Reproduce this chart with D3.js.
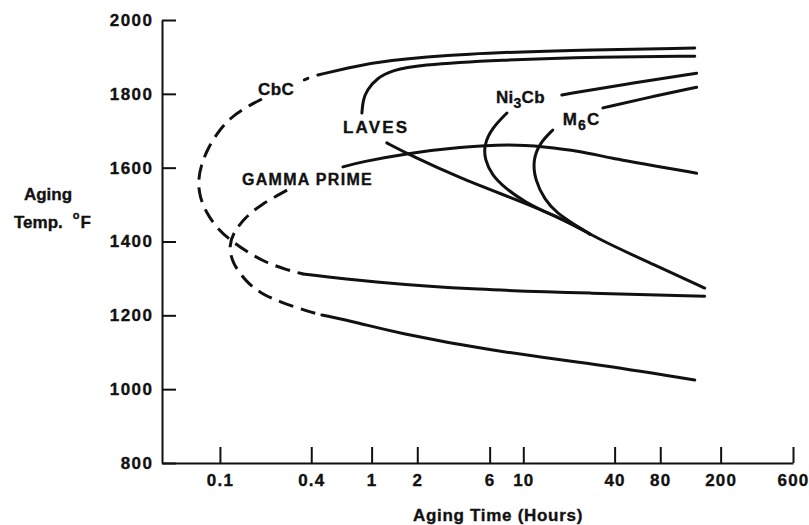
<!DOCTYPE html>
<html>
<head>
<meta charset="utf-8">
<script src="https://cdn.jsdelivr.net/npm/d3@7"></script>
<style>
  body { margin: 0; background: #fff; }
  text { font-family: "Liberation Sans", Arial, Helvetica, sans-serif; font-weight: bold; fill: #111;
         stroke: #111; stroke-width: 0.35px; }
</style>
</head>
<body>
<div id="chart"></div>
<script>
// axis ticks
var xTicks = [0.1, 0.4, 1, 2, 6, 10, 40, 80, 200, 600];
var yTicks = [800, 1000, 1200, 1400, 1600, 1800, 2000];

// curves as [hours, temp F]
var cbcUpper = [[0.442,1851],[0.75,1873],[1.19,1890],[4.25,1909],[19.4,1918],[135,1924]];
var cbcDot = [[0.36,1838],[0.38,1842]];
var cbcNose = [[0.189,1786],[0.146,1762],[0.1164,1734],[0.097,1697],[0.0834,1653],[0.075,1607],
               [0.0716,1561],[0.0738,1520],[0.0809,1480],[0.0941,1439],[0.1164,1404],[0.1507,1372],
               [0.198,1344],[0.277,1323],[0.353,1312]];
var cbcLower = [[0.353,1312],[0.975,1290],[4.94,1269],[27.5,1260],[157,1252]];

var lavesUpper = [[0.863,1748],[0.877,1783],[0.931,1810],[1.083,1843],[1.38,1864],[1.99,1878],
                  [7.02,1892],[32,1900],[135,1902]];
var lavesLower = [[1.26,1667],[1.79,1634],[3.82,1572],[8.17,1520],[17.4,1466],[32,1404],[68.4,1342],[157,1274]];

var ni3cbUpper = [[17.95,1797],[48.2,1827],[139,1856]];
var ni3cbLower = [[7.8,1748],[6.21,1707],[5.5,1661],[5.58,1621],[6.21,1580],[7.56,1545],
                  [10.24,1507],[14.97,1474],[21.9,1445],[27.5,1420]];

var m6cUpper = [[33.5,1762],[79.4,1797],[139,1818]];
var m6cLower = [[15.66,1702],[12.85,1667],[11.57,1621],[11.92,1567],[13.87,1512],[16.64,1477],
                [21.9,1445],[27.5,1420]];

var gammaUpper = [[0.647,1602],[0.838,1615],[1.79,1640],[3.82,1656],[8.17,1664],[13.6,1657],
                  [23.6,1645],[37.3,1626],[68.4,1607],[139,1585]];
var gammaNose = [[0.277,1539],[0.184,1499],[0.146,1464],[0.1237,1426],[0.1146,1390],[0.12,1342],
                 [0.1507,1288],[0.189,1258],[0.2486,1236],[0.392,1209],[0.47,1201]];
var gammaLower = [[0.47,1201],[0.838,1179],[1.38,1155],[6.3,1103],[28.8,1069],[135,1025]];

// phase labels: [hours, temp] of the left end of the baseline
var phaseLabels = [
  { h: 0.178, t: 1797, ls: 0.5, parts: [["CbC", 0]] },
  { h: 0.647, t: 1694, ls: 2.2, parts: [["LAVES", 0]] },
  { h: 0.1397, t: 1553, ls: 1.3, parts: [["GAMMA PRIME", 0]], size: 16 },
  { h: 6.6, t: 1775, ls: 0.3, parts: [["Ni", 0], ["3", 1], ["Cb", 0]] },
  { h: 18.2, t: 1716, ls: 1.2, parts: [["M", 0], ["6", 1], ["C", 0]] }
];

var width = 809, height = 525;

var svg = d3.select("#chart")
  .append("svg")
  .attr("width", width)
  .attr("height", height);

var x = d3.scaleLog().domain([0.0415, 600]).range([162, 793]);
var y = d3.scaleLinear().domain([800, 2000]).range([463, 20]);

var line = d3.line()
  .x(function(d) { return x(d[0]); })
  .y(function(d) { return y(d[1]); })
  .curve(d3.curveBasis);

// x axis, ticks pointing up
var xAxis = svg.append("g")
  .attr("transform", "translate(0," + y(800) + ")")
  .style("color", "#111")
  .call(d3.axisBottom(x)
    .tickValues(xTicks)
    .tickFormat(function(d) { return String(d); })
    .tickSizeInner(-16)
    .tickSizeOuter(0)
    .tickPadding(11));

xAxis.select(".domain").attr("stroke-width", 2);
xAxis.selectAll(".tick line").attr("stroke-width", 2);
xAxis.selectAll("text")
  .attr("font-size", 17)
  .attr("font-family", null)
  .style("letter-spacing", "1.2px");

// y axis, ticks pointing right
var yAxis = svg.append("g")
  .attr("transform", "translate(" + x(0.0415) + ",0)")
  .style("color", "#111")
  .call(d3.axisLeft(y)
    .tickValues(yTicks)
    .tickFormat(function(d) { return String(d); })
    .tickSizeInner(-14)
    .tickSizeOuter(0)
    .tickPadding(8.5));

yAxis.select(".domain").attr("stroke-width", 2);
yAxis.selectAll(".tick line").attr("stroke-width", 2);
yAxis.selectAll("text")
  .attr("font-size", 17)
  .attr("font-family", null)
  .style("letter-spacing", "1.5px");

// axis titles
svg.append("text")
  .attr("x", 498)
  .attr("y", 521)
  .attr("text-anchor", "middle")
  .attr("font-size", 17)
  .style("letter-spacing", "0.7px")
  .text("Aging Time (Hours)");

svg.append("text")
  .attr("x", 48)
  .attr("y", 200)
  .attr("text-anchor", "middle")
  .attr("font-size", 17)
  .text("Aging");

var tempTitle = svg.append("text")
  .attr("x", 14)
  .attr("y", 228)
  .attr("font-size", 17);
tempTitle.append("tspan").text("Temp.");
tempTitle.append("tspan").attr("dx", 10).attr("dy", -9).attr("font-size", 11).text("o");
tempTitle.append("tspan").attr("dx", 1).attr("dy", 9).text("F");

// curves
var solidCurves = [cbcUpper, cbcDot, cbcLower, lavesUpper, lavesLower, ni3cbUpper, ni3cbLower,
                   m6cUpper, m6cLower, gammaUpper, gammaLower];
var dashedCurves = [cbcNose, gammaNose];

svg.selectAll(".solid-curve")
  .data(solidCurves)
  .enter().append("path")
  .attr("class", "solid-curve")
  .attr("d", line)
  .attr("fill", "none")
  .attr("stroke", "#111")
  .attr("stroke-width", 3)
  .attr("stroke-linecap", "round");

svg.selectAll(".dashed-curve")
  .data(dashedCurves)
  .enter().append("path")
  .attr("class", "dashed-curve")
  .attr("d", line)
  .attr("fill", "none")
  .attr("stroke", "#111")
  .attr("stroke-width", 3)
  .attr("stroke-dasharray", "15,8");

// phase labels
var labels = svg.selectAll(".phase-label")
  .data(phaseLabels)
  .enter().append("text")
  .attr("class", "phase-label")
  .attr("x", function(d) { return x(d.h); })
  .attr("y", function(d) { return y(d.t); })
  .attr("font-size", function(d) { return d.size || 17; })
  .style("letter-spacing", function(d) { return d.ls + "px"; });

labels.each(function(d) {
  var el = d3.select(this);
  var shifted = 0;
  d.parts.forEach(function(p) {
    var dy = (p[1] ? 5 : 0) - shifted;
    shifted = p[1] ? 5 : 0;
    el.append("tspan")
      .attr("dy", dy)
      .attr("font-size", p[1] ? 14 : null)
      .text(p[0]);
  });
});
</script>
</body>
</html>
